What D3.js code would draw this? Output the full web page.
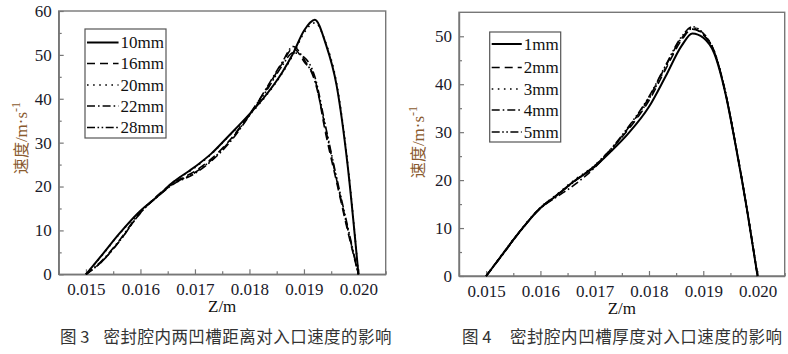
<!DOCTYPE html>
<html><head><meta charset="utf-8">
<script src="https://cdn.jsdelivr.net/npm/d3@7"></script>
<style>body{margin:0;background:#fff}svg{display:block}</style>
</head><body>
<svg id="c" width="788" height="354"></svg>
<script>
// ---- data ----
const zValues = [0.015,0.0153,0.0156,0.016,0.0163,0.0166,0.017,0.0173,0.0176,0.018,0.0183,0.0186,0.0188,0.019,0.0192,0.0194,0.0196,0.0198,0.020];
// Fig 3: groove distance
const fig3Names = ["10mm","16mm","20mm","22mm","28mm"];
const v10mm = [0,4.5,9.1,14.5,17.6,21,24.5,27.5,31.3,36.5,40.8,46,50.3,55.5,58,52.5,43,25,0];
const v16mm = [0,3,7.3,14,17.8,20.8,23.5,26.3,30,36.5,42,48,51.5,48.5,44.5,32,21,10,0];
const v20mm = [0,4.4,9,14.4,17.6,21,24.3,27.4,31.2,36.3,40.6,45.8,50,55,57.3,52.8,43.5,25.5,0];
const v22mm = [0,3.2,7.5,14.2,17.6,20.5,23,25.8,29.5,36.2,42.2,48.3,51.9,49,44,33,21.5,10.5,0];
const v28mm = [0,3,7.3,14,17.6,20.6,23.2,26,29.8,36.3,41.6,47.5,50.5,49.5,45,33.5,22,11,0];
// Fig 4: groove thickness
const fig4Names = ["1mm","2mm","3mm","4mm","5mm"];
const v1mm = [0,4.5,9,14.2,16.8,19.6,22.8,26,29.5,35.3,41.5,48,50.6,49.7,46.5,38.5,27,14.2,0];
const v2mm = [0,4.5,9,14.2,16.9,19.6,23,26.4,30.3,36.6,43,49.2,51.5,50.3,46.8,38.7,27.2,14.3,0];
const v3mm = [0,4.6,9.1,14.3,17,19.8,23.1,26.5,30.5,36.9,43.3,49.5,51.8,50.6,47,38.8,27.2,14.3,0];
const v4mm = [0,4.4,8.9,14.1,16.5,18.8,22.6,26.3,30.6,37.2,43.6,49.6,51.6,50.4,46.8,38.6,27.1,14.2,0];
const v5mm = [0,4.5,9,14.2,16.8,19.5,23,26.5,30.8,37.4,43.8,49.9,52,50.6,46.9,38.7,27.1,14.2,0];
const xTicks = [0.015,0.016,0.017,0.018,0.019,0.020];
const fig3YTicks = [0,10,20,30,40,50,60];
const fig4YTicks = [0,10,20,30,40,50];
const xLabel = "Z/m";
const yLabelCJK = "速度";
const yLabelUnit = "/m·s";
const captionNums = ["图 3","图 4"];
const captionTexts = ["密封腔内两凹槽距离对入口速度的影响","密封腔内凹槽厚度对入口速度的影响"];

const dashes = [null,"8,5","1.6,4.5","8,3,1.6,3","8,2.5,1.6,2.5,1.6,2.5"];
const widths = [2,1.6,1.6,1.6,1.6];

const svg = d3.select("#c");
const SERIF = '"Liberation Serif"';
const CJK = '"Noto Sans CJK SC"';

function drawChart(cfg){
  const g = svg.append("g");
  const x = d3.scaleLinear().domain([0.0145,0.0205]).range([cfg.left,cfg.right]);
  const y = d3.scaleLinear().domain([0,cfg.ymax]).range([cfg.bottom,cfg.top]);
  g.append("rect").attr("x",cfg.left).attr("y",cfg.top).attr("width",cfg.right-cfg.left)
    .attr("height",cfg.bottom-cfg.top).attr("fill","none").attr("stroke","#777").attr("stroke-width",1.4);
  const xMinor = d3.range(0.0145,0.02051,0.0005).map(d=>+d.toFixed(5)).filter(d=>!xTicks.some(t=>Math.abs(t-d)<1e-7));
  g.append("g").attr("transform",`translate(0,${cfg.bottom})`)
    .call(d3.axisBottom(x).tickValues(xTicks).tickFormat(d3.format(".3f")).tickSizeInner(-5).tickSizeOuter(0).tickPadding(9));
  g.append("g").attr("transform",`translate(0,${cfg.bottom})`)
    .call(d3.axisBottom(x).tickValues(xMinor).tickFormat("").tickSizeInner(-3).tickSizeOuter(0))
    .call(s=>s.select(".domain").remove());
  g.append("g").attr("transform",`translate(${cfg.left},0)`)
    .call(d3.axisLeft(y).tickValues(cfg.yTicks).tickSizeInner(-5).tickSizeOuter(0).tickPadding(7));
  const yMinor = d3.range(5,cfg.ymax,10);
  g.append("g").attr("transform",`translate(${cfg.left},0)`)
    .call(d3.axisLeft(y).tickValues(yMinor).tickFormat("").tickSizeInner(-3).tickSizeOuter(0))
    .call(s=>s.select(".domain").remove());
  g.selectAll(".domain").attr("stroke","#777").attr("stroke-width",1.4);
  g.selectAll(".tick line").attr("stroke","#777").attr("stroke-width",1.2);
  g.selectAll(".tick text").style("font-family",SERIF).style("font-size","17px").attr("fill","#1a1a2a");
  const line = d3.line().x((d,i)=>x(zValues[i])).y(d=>y(d)).curve(d3.curveMonotoneX);
  cfg.series.forEach((s,i)=>{
    g.append("path").datum(s).attr("d",line).attr("fill","none").attr("stroke","#000")
      .attr("stroke-width",widths[i]).attr("stroke-dasharray",dashes[i]);
  });
  const L = cfg.legend;
  g.append("rect").attr("x",L.x).attr("y",L.y).attr("width",L.w).attr("height",L.h)
    .attr("fill","#fff").attr("stroke","#555").attr("stroke-width",1.2);
  cfg.names.forEach((n,i)=>{
    const yy = L.rows[i];
    const t = g.append("text").attr("x",L.x+L.w-2).attr("y",yy+5.5).attr("text-anchor","end")
      .style("font-family",SERIF).style("font-size","17px").attr("fill","#111").text(n);
    const tw = t.node().getComputedTextLength();
    g.append("line").attr("x1",L.x+2).attr("x2",L.x+L.w-4-tw).attr("y1",yy).attr("y2",yy)
      .attr("stroke","#000").attr("stroke-width",widths[i]).attr("stroke-dasharray",dashes[i]);
  });
  g.append("text").attr("x",(x(0.015)+x(0.020))/2).attr("y",cfg.bottom+38).attr("text-anchor","middle")
    .style("font-family",SERIF).style("font-size","17px").attr("fill","#111").text(xLabel);
  const yl = g.append("text").attr("transform",`translate(${cfg.ylabX},${cfg.ylabY}) rotate(-90)`)
    .attr("text-anchor","middle").attr("fill","#8a5a2e");
  yl.append("tspan").style("font-family",CJK).style("font-size","16px").text(yLabelCJK);
  yl.append("tspan").style("font-family",SERIF).style("font-size","17px").text(yLabelUnit);
  yl.append("tspan").style("font-family",SERIF).attr("dy",-7).style("font-size","12px").text("-1");
  const cap = svg.append("text").attr("y",343).style("font-family",CJK)
    .style("font-size","16.5px").attr("fill","#333");
  cap.append("tspan").attr("x",cfg.capX).text(cfg.capNum);
  cap.append("tspan").attr("x",cfg.capX2).attr("textLength",cfg.capW).text(cfg.capText);
}

drawChart({left:58.7,right:385.7,top:11,bottom:274.3,ymax:60,yTicks:fig3YTicks,
  series:[v10mm,v16mm,v20mm,v22mm,v28mm],names:fig3Names,
  legend:{x:85,y:29,w:81,h:109,rows:[42.5,63.5,85,106,127.5]},
  ylabX:27,ylabY:138,capX:60,capX2:103.5,capW:288,capNum:captionNums[0],capText:captionTexts[0]});
drawChart({left:459,right:784.7,top:12.3,bottom:276,ymax:55,yTicks:fig4YTicks,
  series:[v1mm,v2mm,v3mm,v4mm,v5mm],names:fig4Names,
  legend:{x:489.7,y:32,w:71,h:110,rows:[44,67.5,89,110,132]},
  ylabX:424,ylabY:142,capX:462,capX2:510,capW:272,capNum:captionNums[1],capText:captionTexts[1]});
</script>
</body></html>
